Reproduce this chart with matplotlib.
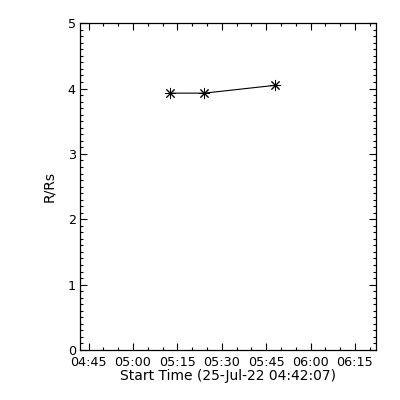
import datetime as dt
import matplotlib
matplotlib.use('Agg')
import matplotlib.pyplot as plt
import matplotlib.dates as mdates
from matplotlib.ticker import MultipleLocator

# data
start = dt.datetime(2022, 7, 25, 4, 42, 7)
times = [dt.datetime(2022, 7, 25, 5, 12, 31),
         dt.datetime(2022, 7, 25, 5, 24, 7),
         dt.datetime(2022, 7, 25, 5, 48, 7)]
heights = [3.93, 3.93, 4.05]

plt.rcParams['font.family'] = 'DejaVu Sans'
plt.rcParams['font.size'] = 9.2

fig = plt.figure(figsize=(4, 4), dpi=100)
ax = fig.add_axes((0.2, 0.125, 0.74, 0.817))

ax.plot(times, heights, color='black', lw=0.8, marker=(8, 2, 0),
        markersize=8, markeredgewidth=0.7)

ax.set_xlim(start, start + dt.timedelta(minutes=100))
ax.set_ylim(0, 5)

ax.xaxis.set_major_locator(mdates.MinuteLocator(byminute=[0, 15, 30, 45]))
ax.xaxis.set_minor_locator(mdates.MinuteLocator(byminute=range(0, 60, 5)))
ax.xaxis.set_major_formatter(mdates.DateFormatter('%H:%M'))
ax.yaxis.set_major_locator(MultipleLocator(1))
ax.yaxis.set_minor_locator(MultipleLocator(0.1))

ax.tick_params(which='both', direction='in', top=True, right=True, width=0.8)
ax.tick_params(which='major', length=5)
ax.tick_params(which='minor', length=2.3)
ax.tick_params(axis='x', which='major', pad=4.5)
ax.tick_params(axis='y', which='major', pad=3)
for s in ax.spines.values():
    s.set_linewidth(0.9)

# nudge the bottom y label up a little so it clears the time labels
ax.get_yticklabels()[0].set_verticalalignment('bottom')

ax.set_xlabel('Start Time (' + start.strftime('%d-%b-%y %H:%M:%S') + ')', labelpad=0,
              fontsize=10)
ax.set_ylabel('R/Rs', labelpad=8, fontsize=10)

fig.savefig('out.png', dpi=100)
